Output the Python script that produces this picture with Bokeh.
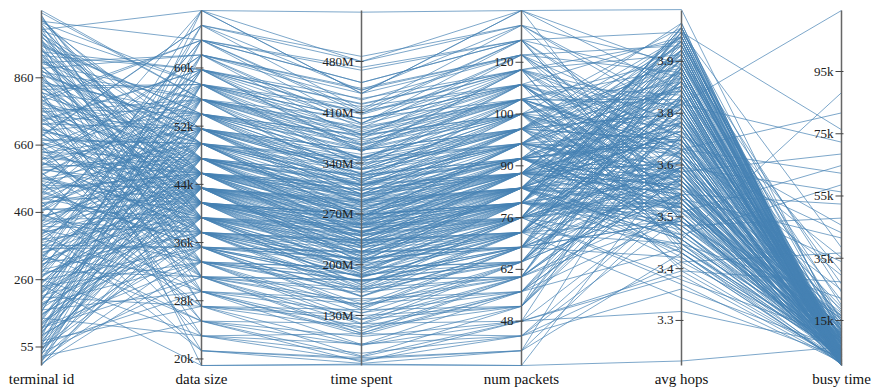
from bokeh.plotting import figure
from bokeh.models import Range1d
from bokeh.core.properties import value
from bokeh.embed import file_html
from bokeh.resources import INLINE

# ---------------- data (one row per terminal, sampled) ----------------
terminal_id = [
    0, 6, 14, 21, 27, 35, 42, 49, 55, 63,
    70, 76, 84, 91, 98, 105, 112, 119, 126, 133,
    141, 148, 154, 162, 169, 176, 183, 190, 197, 204,
    211, 218, 225, 232, 239, 246, 253, 260, 267, 274,
    281, 288, 295, 302, 309, 316, 323, 330, 337, 344,
    351, 358, 365, 372, 379, 386, 393, 400, 407, 414,
    421, 428, 435, 442, 449, 456, 463, 470, 477, 484,
    491, 498, 505, 512, 519, 526, 533, 540, 547, 554,
    561, 568, 575, 582, 589, 596, 603, 610, 617, 624,
    631, 638, 645, 652, 659, 666, 673, 680, 687, 694,
    701, 708, 715, 722, 729, 736, 743, 750, 757, 764,
    771, 778, 785, 792, 799, 806, 813, 820, 827, 834,
    841, 848, 855, 862, 869, 876, 883, 890, 897, 904,
    911, 918, 925, 932, 939, 946, 953, 960, 967, 974,
    981, 988, 995, 1002, 1009, 1016, 1023, 1030, 1037, 1055,
    3, 10, 17, 24, 31, 38, 45, 52, 59, 66,
    73, 80, 87, 94, 101, 108, 115, 122, 129, 137,
    144, 151, 158, 165, 172, 179, 186, 193, 200, 207,
    214, 221, 228, 235, 242, 249, 256, 263, 270, 277,
    284, 291, 298, 305, 312, 319, 326, 333, 340, 347,
    354, 361, 368, 375, 382, 389, 396, 403, 410, 417,
    424, 431, 438, 445, 452, 459, 466, 473, 480, 487,
    494, 501, 508, 515, 522, 529, 536, 543, 550, 557,
    564, 571, 578, 585, 592, 599, 606, 613, 620, 627,
    634, 641, 648, 655, 662, 669, 676, 683, 690, 697,
    704, 711, 718, 725, 732, 739, 746, 753, 760, 767,
    774, 781, 788, 795, 802, 809, 816, 823, 830, 837,
    844, 851, 858, 865, 872, 879, 886, 893, 900, 907,
    914, 921, 928, 935, 942, 949, 956, 963, 970, 977,
    984, 991, 998, 1005, 1012, 1019, 1026, 1033, 1041, 1048,
]

data_size = [
    43500, 33330, 55700, 39430, 25200, 49600, 61800, 37400, 45530, 29270,
    51630, 41470, 67900, 35370, 47570, 57730, 31300, 43500, 39430, 53670,
    23170, 45530, 37400, 59770, 41470, 49600, 33330, 63830, 47570, 27230,
    55700, 39430, 43500, 51630, 19100, 45530, 35370, 57730, 41470, 65870,
    31300, 47570, 53670, 37400, 43500, 61800, 49600, 25200, 39430, 45530,
    59770, 35370, 41470, 51630, 29270, 55700, 43500, 47570, 21130, 37400,
    49600, 63830, 39430, 45530, 33330, 53670, 41470, 57730, 27230, 43500,
    47570, 37400, 51630, 67900, 35370, 45530, 59770, 31300, 41470, 49600,
    39430, 55700, 23170, 43500, 47570, 53670, 37400, 61800, 45530, 33330,
    51630, 41470, 29270, 57730, 43500, 35370, 49600, 65870, 39430, 47570,
    45530, 31300, 55700, 41470, 59770, 37400, 51630, 25200, 43500, 53670,
    35370, 47570, 63830, 39430, 49600, 21130, 45530, 57730, 41470, 33330,
    53670, 43500, 37400, 51630, 27230, 47570, 61800, 39430, 55700, 45530,
    41470, 49600, 31300, 59770, 43500, 35370, 53670, 47570, 19100, 51630,
    37400, 45530, 57730, 29270, 41470, 49600, 63830, 43500, 39430, 55700,
    41470, 51630, 35370, 45530, 57730, 31300, 47570, 39430, 63830, 43500,
    27230, 49600, 37400, 53670, 43500, 59770, 33330, 45530, 41470, 55700,
    47570, 39430, 65870, 29270, 51630, 43500, 37400, 57730, 45530, 35370,
    61800, 41470, 49600, 33330, 53670, 47570, 23170, 43500, 39430, 51630,
    37400, 55700, 45530, 67900, 41470, 31300, 49600, 43500, 59770, 35370,
    45530, 25200, 53670, 39430, 47570, 57730, 41470, 33330, 51630, 43500,
    63830, 37400, 47570, 43500, 29270, 55700, 39430, 49600, 45530, 21130,
    51630, 41470, 59770, 35370, 45530, 53670, 43500, 27230, 47570, 39430,
    57730, 33330, 49600, 41470, 61800, 45530, 37400, 51630, 31300, 43500,
    47570, 55700, 39430, 25200, 45530, 49600, 41470, 65870, 35370, 53670,
    43500, 37400, 51630, 59770, 33330, 47570, 41470, 55700, 45530, 29270,
    39430, 49600, 43500, 63830, 37400, 53670, 23170, 45530, 57730, 41470,
    31300, 47570, 41470, 51630, 55700, 39430, 45530, 35370, 61800, 49600,
    43500, 59770, 37400, 47570, 27230, 53670, 41470, 49600, 33330, 45530,
    51630, 39430, 67900, 43500, 35370, 57730, 47570, 41470, 31300, 55700,
]

time_spent_M = [
    225, 186, 375, 172, 89, 298, 443, 206, 225, 106,
    343, 202, 548, 209, 269, 344, 145, 287, 215, 321,
    68, 279, 162, 429, 256, 266, 141, 412, 302, 130,
    316, 229, 239, 358, 62, 268, 146, 401, 216, 440,
    105, 323, 347, 234, 211, 388, 318, 66, 193, 294,
    356, 184, 269, 297, 153, 388, 256, 240, 72, 183,
    347, 451, 240, 243, 179, 305, 232, 418, 74, 273,
    290, 219, 281, 436, 157, 303, 407, 162, 190, 331,
    166, 402, 91, 232, 311, 372, 188, 427, 234, 196,
    331, 246, 90, 365, 280, 177, 284, 487, 251, 256,
    287, 124, 337, 226, 379, 225, 352, 119, 218, 358,
    218, 296, 472, 184, 309, 64, 254, 385, 263, 119,
    332, 265, 199, 310, 113, 251, 373, 223, 364, 311,
    239, 273, 179, 422, 204, 138, 378, 316, 63, 325,
    170, 271, 340, 134, 207, 340, 394, 250, 203, 383,
    247, 292, 208, 256, 412, 118, 294, 173, 451, 253,
    125, 266, 207, 366, 204, 395, 195, 289, 212, 324,
    259, 242, 480, 114, 331, 282, 165, 356, 268, 217,
    395, 268, 321, 125, 332, 243, 78, 268, 218, 297,
    230, 369, 234, 480, 223, 167, 344, 235, 366, 156,
    304, 101, 301, 186, 313, 380, 230, 178, 358, 218,
    408, 182, 264, 289, 146, 346, 255, 286, 229, 70,
    325, 196, 421, 184, 283, 360, 245, 89, 324, 191,
    333, 169, 327, 251, 436, 244, 197, 286, 109, 263,
    297, 390, 202, 73, 298, 275, 269, 414, 202, 348,
    276, 233, 305, 409, 133, 276, 187, 380, 275, 103,
    234, 310, 260, 468, 156, 314, 105, 309, 393, 244,
    179, 310, 262, 337, 313, 246, 250, 141, 441, 318,
    209, 358, 213, 257, 138, 379, 241, 262, 165, 295,
    347, 227, 436, 285, 176, 401, 287, 255, 150, 361,
]

num_packets = [
    84, 64, 108, 76, 48, 96, 120, 72, 88, 56,
    100, 80, 132, 68, 92, 112, 60, 84, 76, 104,
    44, 88, 72, 116, 80, 96, 64, 124, 92, 52,
    108, 76, 84, 100, 36, 88, 68, 112, 80, 128,
    60, 92, 104, 72, 84, 120, 96, 48, 76, 88,
    116, 68, 80, 100, 56, 108, 84, 92, 40, 72,
    96, 124, 76, 88, 64, 104, 80, 112, 52, 84,
    92, 72, 100, 132, 68, 88, 116, 60, 80, 96,
    76, 108, 44, 84, 92, 104, 72, 120, 88, 64,
    100, 80, 56, 112, 84, 68, 96, 128, 76, 92,
    88, 60, 108, 80, 116, 72, 100, 48, 84, 104,
    68, 92, 124, 76, 96, 40, 88, 112, 80, 64,
    104, 84, 72, 100, 52, 92, 120, 76, 108, 88,
    80, 96, 60, 116, 84, 68, 104, 92, 36, 100,
    72, 88, 112, 56, 80, 96, 124, 84, 76, 108,
    80, 100, 68, 88, 112, 60, 92, 76, 124, 84,
    52, 96, 72, 104, 84, 116, 64, 88, 80, 108,
    92, 76, 128, 56, 100, 84, 72, 112, 88, 68,
    120, 80, 96, 64, 104, 92, 44, 84, 76, 100,
    72, 108, 88, 132, 80, 60, 96, 84, 116, 68,
    88, 48, 104, 76, 92, 112, 80, 64, 100, 84,
    124, 72, 92, 84, 56, 108, 76, 96, 88, 40,
    100, 80, 116, 68, 88, 104, 84, 52, 92, 76,
    112, 64, 96, 80, 120, 88, 72, 100, 60, 84,
    92, 108, 76, 48, 88, 96, 80, 128, 68, 104,
    84, 72, 100, 116, 64, 92, 80, 108, 88, 56,
    76, 96, 84, 124, 72, 104, 44, 88, 112, 80,
    60, 92, 80, 100, 108, 76, 88, 68, 120, 96,
    84, 116, 72, 92, 52, 104, 80, 96, 64, 88,
    100, 76, 132, 84, 68, 112, 92, 80, 60, 108,
]

avg_hops = [
    3.72, 3.58, 3.86, 3.64, 3.41, 3.93, 3.55, 3.79, 3.49, 3.68,
    3.87, 3.53, 3.99, 3.61, 3.75, 3.46, 3.82, 3.57, 3.94, 3.66,
    3.37, 3.89, 3.52, 3.71, 3.62, 3.48, 3.78, 3.84, 3.59, 3.93,
    3.55, 3.74, 3.43, 3.81, 3.66, 3.92, 3.58, 3.69, 3.51, 3.77,
    3.86, 3.63, 3.47, 3.79, 3.56, 3.91, 3.67, 3.84, 3.39, 3.73,
    3.60, 3.95, 3.54, 3.76, 3.62, 3.88, 3.45, 3.70, 3.57, 3.83,
    3.64, 3.52, 3.90, 3.60, 3.74, 3.41, 3.85, 3.57, 3.68, 3.94,
    3.51, 3.77, 3.63, 3.86, 3.44, 3.70, 3.92, 3.56, 3.81, 3.48,
    3.65, 3.79, 3.53, 3.88, 3.61, 3.73, 3.35, 3.66, 3.83, 3.58,
    3.50, 3.90, 3.71, 3.62, 3.55, 3.80, 3.42, 3.75, 3.96, 3.59,
    3.67, 3.87, 3.54, 3.78, 3.47, 3.64, 3.91, 3.57, 3.72, 3.85,
    3.52, 3.69, 3.94, 3.60, 3.82, 3.45, 3.65, 3.56, 3.89, 3.74,
    3.63, 3.48, 3.80, 3.58, 3.76, 3.93, 3.61, 3.71, 3.50, 3.84,
    3.66, 3.55, 3.90, 3.77, 3.62, 3.85, 3.53, 3.70, 3.21, 3.88,
    3.58, 3.74, 3.61, 3.46, 3.95, 3.68, 3.57, 3.82, 3.64, 3.78,
    3.61, 3.84, 3.52, 3.77, 3.93, 3.66, 3.55, 3.88, 3.70, 3.48,
    3.79, 3.63, 3.94, 3.57, 3.72, 3.45, 3.86, 3.60, 3.91, 3.68,
    3.54, 3.83, 3.62, 3.75, 3.96, 3.51, 3.69, 3.80, 3.58, 3.87,
    3.73, 3.49, 3.89, 3.64, 3.56, 3.78, 3.43, 3.92, 3.61, 3.70,
    3.85, 3.59, 3.74, 3.53, 3.95, 3.67, 3.82, 3.50, 3.63, 3.76,
    3.65, 3.32, 3.81, 3.57, 3.90, 3.71, 3.46, 3.84, 3.60, 3.93,
    3.68, 3.77, 3.55, 3.86, 3.62, 3.49, 3.74, 3.91, 3.58, 3.80,
    3.53, 3.88, 3.66, 3.79, 3.44, 3.95, 3.63, 3.71, 3.82, 3.56,
    3.60, 3.73, 3.85, 3.52, 3.67, 3.90, 3.47, 3.76, 3.64, 3.83,
    3.71, 3.58, 3.94, 3.40, 3.62, 3.79, 3.55, 3.87, 3.68, 3.50,
    3.77, 3.63, 3.48, 3.89, 3.70, 3.57, 3.84, 3.66, 3.92, 3.53,
    3.86, 3.61, 3.75, 3.52, 3.80, 3.67, 3.58, 3.45, 3.73, 3.90,
    3.64, 3.81, 3.56, 3.93, 3.69, 3.38, 3.78, 3.60, 3.85, 3.72,
    3.59, 3.74, 3.88, 3.51, 3.66, 3.83, 3.95, 3.62, 3.76, 3.54,
    3.70, 3.47, 3.81, 3.65, 3.92, 3.57, 3.79, 3.86, 3.53, 3.68,
]

busy_time = [
    4200, 9800, 2100, 12500, 27400, 3600, 7100, 1500, 58600, 5400,
    8900, 2800, 11300, 900, 17800, 6300, 4700, 1200, 38400, 3100,
    5900, 2300, 13900, 800, 7600, 3900, 72300, 1800, 9200, 4500,
    2600, 15600, 6800, 1000, 3300, 11800, 5100, 2000, 47900, 8100,
    1400, 4000, 22100, 700, 6100, 2700, 13200, 3700, 9500, 1600,
    5600, 2400, 64800, 7300, 1100, 10400, 4400, 2000, 8600, 30600,
    3000, 6600, 1300, 15100, 5000, 2200, 9000, 41500, 3400, 600,
    7900, 2600, 12100, 4800, 1700, 19300, 3500, 6900, 1100, 88200,
    4100, 9900, 2500, 800, 14300, 5700, 3200, 10700, 1900, 52400,
    6400, 2900, 8300, 1000, 16800, 4900, 2300, 7400, 1500, 33900,
    3800, 11000, 2100, 6000, 900, 24800, 4600, 1300, 9700, 3000,
    5300, 1400, 76300, 2700, 8700, 4300, 12900, 600, 6200, 2500,
    18600, 3300, 7700, 1800, 10100, 4100, 2000, 45600, 5500, 1200,
    8200, 2900, 14700, 1000, 5800, 3600, 9300, 700, 6500, 26700,
    2200, 7200, 11900, 4000, 1500, 62300, 3100, 8800, 1800, 114600,
    3900, 1200, 8400, 2600, 5300, 700, 13600, 4400, 1900, 6700,
    2300, 9100, 1400, 4800, 16200, 900, 3500, 7800, 1100, 29500,
    5600, 2100, 10900, 3000, 800, 6300, 1700, 21400, 4100, 2700,
    1300, 7400, 3200, 12200, 600, 4600, 36700, 2400, 8900, 1600,
    4300, 1000, 9600, 2800, 5100, 14100, 1800, 3600, 68500, 700,
    2500, 7000, 1200, 11200, 3800, 800, 5900, 2200, 17400, 4700,
    3300, 1500, 8000, 2900, 10200, 5000, 1100, 24100, 6600, 2000,
    900, 4500, 2300, 7100, 1400, 12700, 3900, 5800, 600, 9000,
    6100, 2700, 900, 15800, 3400, 1700, 8500, 4200, 56300, 1300,
    2000, 10600, 4900, 1600, 7300, 3100, 700, 19900, 5200, 2600,
    8700, 1900, 4000, 1100, 13000, 6200, 2300, 43200, 800, 3700,
    5000, 1300, 9800, 3000, 600, 11500, 4400, 2100, 7600, 1000,
    3500, 700, 6800, 2200, 14900, 1600, 4800, 9400, 2700, 35200,
    1200, 5500, 3100, 10800, 700, 4300, 1900, 7200, 2500, 16500,
    8100, 2900, 600, 4600, 1500, 9900, 3300, 1000, 6400, 81700,
]

dimensions = ["terminal id", "data size", "time spent", "num packets", "avg hops", "busy time"]
domains = [(0, 1055), (19100, 67900), (61.1, 550.3), (36, 132), (3.200, 3.988), (540, 114600)]

tick_values = [
    [55, 255, 455, 655, 855],
    [20000, 28000, 36000, 44000, 52000, 60000],
    [130, 200, 270, 340, 410, 480],
    [48, 62, 76, 90, 104, 118],
    [3.30, 3.415, 3.53, 3.645, 3.76, 3.875],
    [15000, 35000, 55000, 75000, 95000],
]
tick_labels = [
    ["55", "260", "460", "660", "860"],
    ["20k", "28k", "36k", "44k", "52k", "60k"],
    ["130M", "200M", "270M", "340M", "410M", "480M"],
    ["48", "62", "76", "90", "100", "120"],
    ["3.3", "3.4", "3.5", "3.6", "3.8", "3.9"],
    ["15k", "35k", "55k", "75k", "95k"],
]

columns = [terminal_id, data_size, time_spent_M, num_packets, avg_hops, busy_time]

# ---------------- layout ----------------
W, H = 874, 387
X0, DX = 41, 160          # first axis pixel x, spacing between axes
TOP, BOT = 10, 365        # axis top / bottom pixel y
SPAN = BOT - TOP
lo_pad = (H - BOT) / SPAN
hi_pad = TOP / SPAN

p = figure(width=W, height=H,
           x_range=Range1d(-X0 / DX, (W - X0) / DX),
           y_range=Range1d(-lo_pad, 1 + hi_pad),
           output_backend="svg", toolbar_location=None,
           x_axis_type=None, y_axis_type=None, min_border=0)
p.outline_line_color = None
p.background_fill_color = "white"
p.border_fill_color = "white"

# polylines (normalised per dimension)
n = len(terminal_id)
xs = [list(range(len(dimensions))) for _ in range(n)]
ys = []
for r in range(n):
    row = []
    for k, col in enumerate(columns):
        lo, hi = domains[k]
        row.append((col[r] - lo) / (hi - lo))
    ys.append(row)
p.multi_line(xs=xs, ys=ys, line_color="#4682b4", line_alpha=0.7, line_width=1)

# axes
font = value("Liberation Serif")
for k, name in enumerate(dimensions):
    lo, hi = domains[k]
    span = hi - lo
    rn = f"dim{k}"
    p.extra_y_ranges[rn] = Range1d(lo - span * lo_pad, hi + span * hi_pad)
    p.segment(x0=[k], y0=[lo], x1=[k], y1=[hi], y_range_name=rn,
              line_color="#666666", line_width=1.5)
    tv = tick_values[k]
    m = len(tv)
    p.segment(x0=[k - 6 / DX] * m, y0=tv, x1=[k + 2 / DX] * m, y1=tv,
              y_range_name=rn, line_color="#444444", line_width=1)
    p.text(x=[k - 8 / DX] * m, y=tv, text=tick_labels[k], y_range_name=rn,
           text_align="right", text_baseline="middle", text_font=font,
           text_font_size="13px", text_color="#222222")

p.text(x=list(range(len(dimensions))), y=[-(378 - BOT) / SPAN] * len(dimensions),
       text=dimensions, text_align="center", text_baseline="middle",
       text_font=font, text_font_size="15px", text_color="#111111")

open("out.html", "w").write(file_html(p, INLINE))
